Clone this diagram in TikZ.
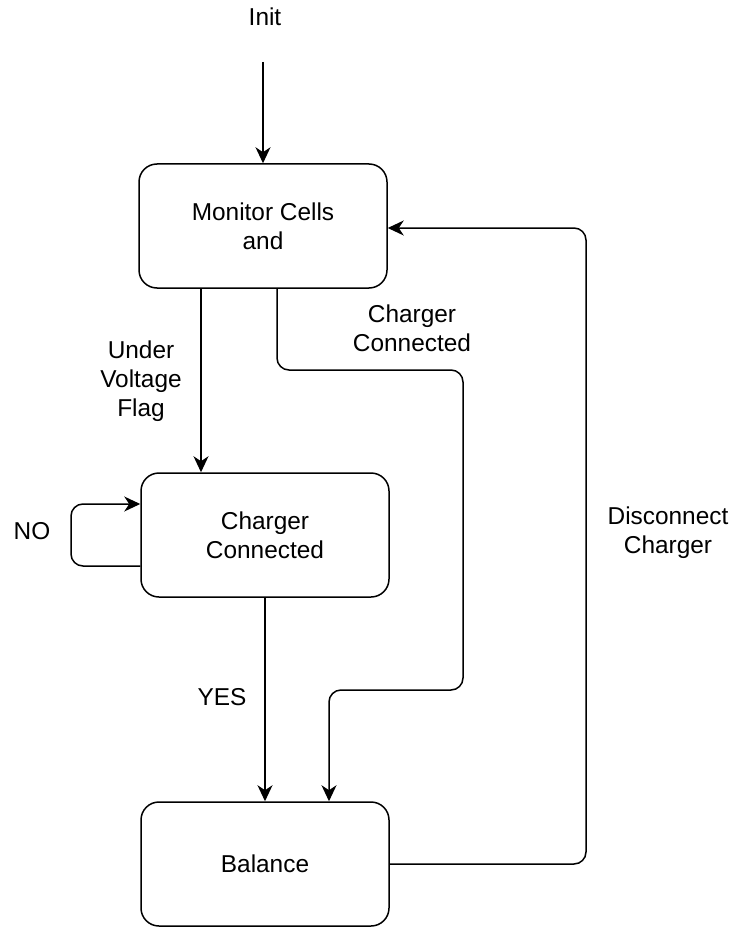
\documentclass[tikz,border=0pt]{standalone}
\usepackage{fontspec}
\setmainfont{Liberation Sans}
\usetikzlibrary{arrows.meta}
\begin{document}
\begin{tikzpicture}[x=1pt,y=-1pt,
  box/.style={draw,line width=1.5pt,rounded corners=18pt,minimum width=248pt,minimum height=124pt,align=center,inner sep=0pt},
  lbl/.style={align=center,inner sep=0pt},
  arr/.style={line width=1.5pt,-{Stealth[length=16pt,width=15pt,inset=5pt]},rounded corners=12pt},
  font=\fontsize{24.4}{29}\selectfont]
\useasboundingbox (0,0) rectangle (735,928);
\node[lbl] (init) at (265,17) {Init};
\coordinate (istart) at (263,62);
\node[box] (b1) at (263,226) {Monitor Cells\\and};
\node[box] (b2) at (265,535) {Charger\\Connected};
\node[box] (b3) at (265,864) {Balance};
\draw[arr] (istart) -- (b1.north);
\draw[arr] (b1.south -| 201,0) -- (b2.north -| 201,0);
\draw[arr] (b1.south -| 277,0) -- (277,370) -- (463,370) -- (463,690) -- (329,690) -- (b3.north -| 329,0);
\draw[arr] (b2.south) -- (b3.north);
\draw[arr] (b2.west |- 0,566) -- (71,566) -- (71,504) -- (b2.west |- 0,504);
\draw[arr] (b3.east) -- (586,864) -- (586,228) -- (b1.east |- 0,228);
\node[lbl] (luv) at (141,381) {Under\\Voltage\\Flag};
\node[lbl] (lcc) at (412,328) {Charger\\Connected};
\node[lbl] (lno) at (32,531) {NO};
\node[lbl] (lyes) at (222,697) {YES};
\node[lbl] (ldc) at (668,533) {Disconnect\\Charger};
\end{tikzpicture}
\end{document}
